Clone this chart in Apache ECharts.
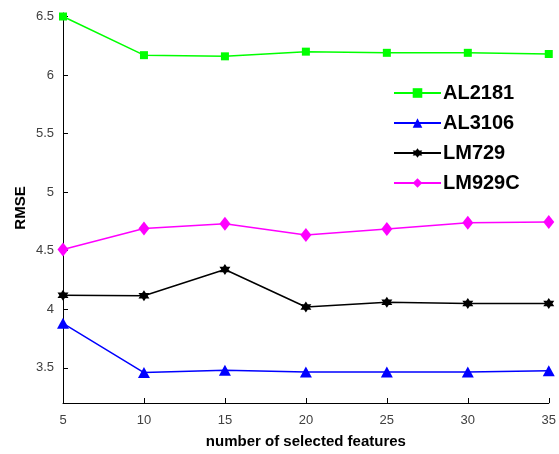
<!DOCTYPE html>
<html>
<head>
<meta charset="utf-8">
<script src="https://cdn.jsdelivr.net/npm/echarts@6/dist/echarts.min.js"></script>
<style>html,body{margin:0;padding:0;background:#fff}#c{width:559px;height:454px}</style>
</head>
<body>
<div id="c"></div>
<script>
const xValues = [5, 10, 15, 20, 25, 30, 35];
const al2181 = [6.50, 6.17, 6.16, 6.20, 6.19, 6.19, 6.18];
const al3106 = [3.88, 3.46, 3.48, 3.465, 3.465, 3.465, 3.475];
const lm729  = [4.12, 4.115, 4.34, 4.02, 4.06, 4.05, 4.05];
const lm929c = [4.51, 4.69, 4.73, 4.635, 4.685, 4.74, 4.745];
const yTicks = [3.5, 4, 4.5, 5, 5.5, 6, 6.5];
const xTicks = [5, 10, 15, 20, 25, 30, 35];

const star = 'path://M0,-10 L2.887,-5 L8.66,-5 L5.774,0 L8.66,5 L2.887,5 L0,10 L-2.887,5 L-8.66,5 L-5.774,0 L-8.66,-5 L-2.887,-5 Z';
function pts(arr){ return xValues.map((x,i)=>[x,arr[i]]); }

const chart = echarts.init(document.getElementById('c'), null, {renderer:'canvas'});
const labelColor = '#404040';
chart.setOption({
  animation:false,
  textStyle:{fontFamily:'Liberation Sans, Arial, sans-serif'},
  grid:{left:63, right:9, top:13, bottom:51, containLabel:false},
  xAxis:{
    type:'value', min:5, max:35, interval:5,
    name:'number of selected features', nameLocation:'middle', nameGap:31,
    nameTextStyle:{fontSize:15, fontWeight:'bold', color:'#000'},
    axisLine:{lineStyle:{color:'#000', width:1}},
    axisTick:{inside:true, length:5, lineStyle:{color:'#000'}, customValues:xTicks},
    axisLabel:{color:labelColor, fontSize:13, margin:11, customValues:xTicks},
    splitLine:{show:false}
  },
  yAxis:{
    type:'value', min:3.2, max:6.53,
    name:'RMSE', nameLocation:'middle', nameGap:35, nameRotate:90, nameMoveOverlap:false,
    nameTextStyle:{fontSize:15, fontWeight:'bold', color:'#000'},
    axisLine:{show:true, lineStyle:{color:'#000', width:1}},
    axisTick:{show:true, inside:true, length:5, lineStyle:{color:'#000'}, customValues:yTicks},
    axisLabel:{color:labelColor, fontSize:13, margin:9, customValues:yTicks},
    splitLine:{show:false}
  },
  legend:{
    orient:'vertical', left:388, top:78, itemWidth:47, itemHeight:12, itemGap:10,
    textStyle:{fontSize:20, fontWeight:'bold', color:'#000', lineHeight:20, padding:[0,0,0,-3]},
    data:['AL2181','AL3106','LM729','LM929C']
  },
  series:[
    {name:'AL2181', type:'line', data:pts(al2181), color:'#00ff00', symbol:'rect', symbolSize:8,
     lineStyle:{width:1.5}, itemStyle:{color:'#00ff00'}},
    {name:'AL3106', type:'line', data:pts(al3106), color:'#0000ff', symbol:'triangle', symbolSize:[12,11],
     lineStyle:{width:1.5}, itemStyle:{color:'#0000ff'}},
    {name:'LM729', type:'line', data:pts(lm729), color:'#000000', symbol:star, symbolSize:11,
     lineStyle:{width:1.5}, itemStyle:{color:'#000000'}},
    {name:'LM929C', type:'line', data:pts(lm929c), color:'#ff00ff', symbol:'diamond', symbolSize:[11,14],
     lineStyle:{width:1.5}, itemStyle:{color:'#ff00ff'}}
  ]
});
</script>
</body>
</html>
